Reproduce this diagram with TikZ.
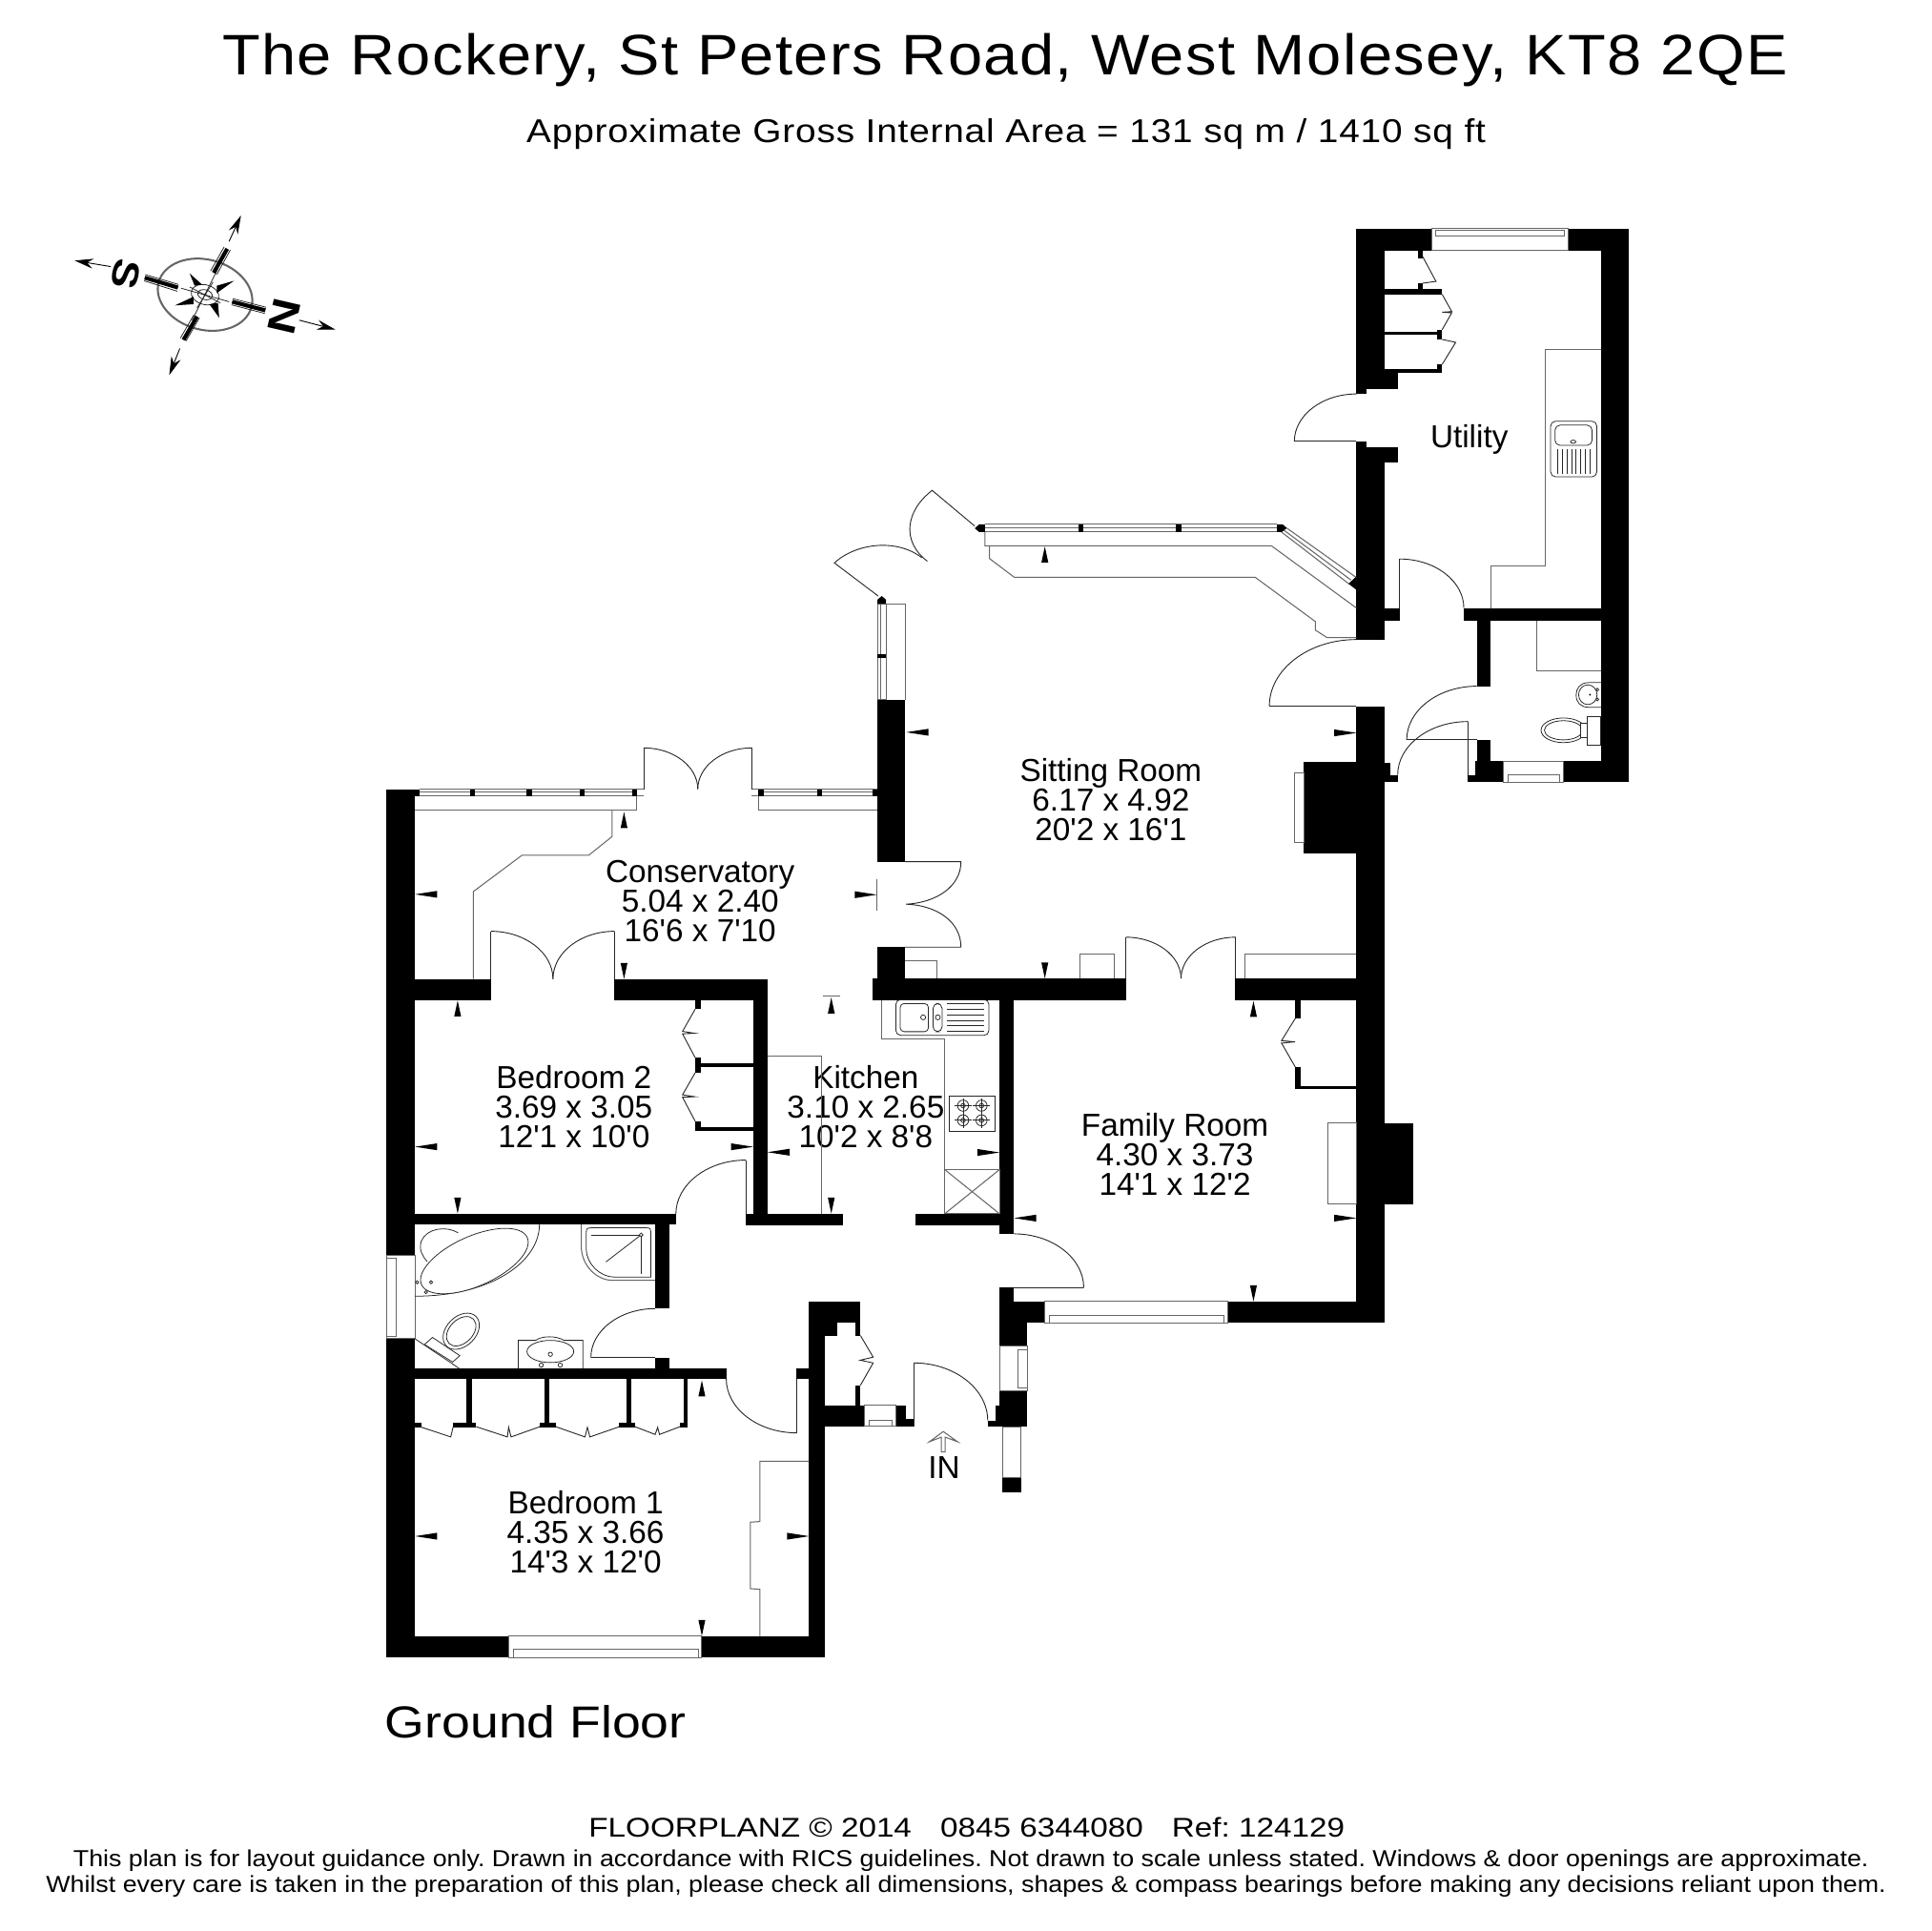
\documentclass[tikz,border=0pt]{standalone}
\usepackage{fontspec}
\usepackage{graphicx}
\setmainfont{Liberation Sans}
\usetikzlibrary{arrows.meta}
\definecolor{gl}{gray}{0.4}
\tikzset{
  fine/.style={draw=gl,line width=0.4pt},
  door/.style={draw=black!85,line width=0.35pt},
  fix/.style={draw=black!85,line width=0.3pt},
  room/.style={font=\fontsize{12.9}{12}\selectfont,inner sep=0pt,align=center},
  glass/.style={draw=gl,line width=0.4pt,fill=white}
}
\newcommand{\wall}[4]{\fill[black] (#1,#2) rectangle (#3,#4);}
\newcommand{\qH}[4]{\pgfmathsetmacro\cxa{#1+.55*(#3-#1)}\pgfmathsetmacro\cyb{#4-.55*(#4-#2)}\draw[door] (#1,#2) .. controls (\cxa,#2) and (#3,\cyb) .. (#3,#4);}
\newcommand{\arL}[2]{\fill[black] (#1,#2) -- (#1+18,#2-2.8) -- (#1+18,#2+2.8) -- cycle;}
\newcommand{\arR}[2]{\fill[black] (#1,#2) -- (#1-18,#2-2.8) -- (#1-18,#2+2.8) -- cycle;}
\newcommand{\arU}[2]{\fill[black] (#1,#2) -- (#1-2.8,#2+13) -- (#1+2.8,#2+13) -- cycle;}
\newcommand{\arD}[2]{\fill[black] (#1,#2) -- (#1-2.8,#2-13) -- (#1+2.8,#2-13) -- cycle;}
\newcommand{\qs}{\textquotesingle{}}
\begin{document}
\begin{tikzpicture}[x=0.5pt,y=-0.5pt]
\frenchspacing
\useasboundingbox (0,0) rectangle (1568,1568);
\fill[white] (0,0) rectangle (1568,1568);
% ---------- texts
\node[inner sep=0pt,font=\fontsize{23.2}{24}\selectfont\addfontfeatures{LetterSpace=2.2}] (title) at (816,49) {\scalebox{1.085}[1]{The Rockery, St Peters Road, West Molesey, KT8 2QE}};
\node[inner sep=0pt,font=\fontsize{13.4}{14}\selectfont\addfontfeatures{LetterSpace=2}] (sub) at (817,109) {\scalebox{1.122}[1]{Approximate Gross Internal Area = 131 sq m / 1410 sq ft}};
\node[room] (utility) at (1193,356.5) {Utility};
\node[room] (sit) at (902,649.5) {Sitting Room\\6.17 x 4.92\\20\qs2 x 16\qs1};
\node[room] (con) at (568.5,732) {Conservatory\\5.04 x 2.40\\16\qs6 x 7\qs10};
\node[room] (bed2) at (466,899) {Bedroom 2\\3.69 x 3.05\\12\qs1 x 10\qs0};
\node[room] (kit) at (703,899) {Kitchen\\3.10 x 2.65\\10\qs2 x 8\qs8};
\node[room] (fam) at (954,937) {Family Room\\4.30 x 3.73\\14\qs1 x 12\qs2};
\node[room] (bed1) at (475.5,1244) {Bedroom 1\\4.35 x 3.66\\14\qs3 x 12\qs0};
\node[room] (in) at (766.5,1191.5) {IN};
\node[inner sep=0pt,font=\fontsize{18.2}{20}\selectfont] (gf) at (435,1398.5) {\scalebox{1.14}[1]{Ground Floor}};
\node[inner sep=0pt,font=\fontsize{11}{12}\selectfont] (f1) at (785,1483.5) {\scalebox{1.17}[1]{FLOORPLANZ © 2014\hspace{10pt}0845 6344080\hspace{10pt}Ref: 124129}};
\node[inner sep=0pt,font=\fontsize{9.4}{10}\selectfont] (f2) at (788.5,1510.5) {\scalebox{1.104}[1]{This plan is for layout guidance only. Drawn in accordance with RICS guidelines. Not drawn to scale unless stated. Windows \& door openings are approximate.}};
\node[inner sep=0pt,font=\fontsize{9.4}{10}\selectfont] (f3) at (784.5,1531.5) {\scalebox{1.105}[1]{Whilst every care is taken in the preparation of this plan, please check all dimensions, shapes \& compass bearings before making any decisions reliant upon them.}};
% ---------- compass
\begin{scope}
\draw[gl,line width=0.8pt,rotate around={-15:(166.5,239.3)}] (166.5,239.3) ellipse[x radius=39,y radius=28.5];
\draw[fix,rotate around={-15:(166.5,239.3)}] (166.5,239.3) ellipse[x radius=11.5,y radius=8];
\draw[fix,rotate around={-15:(166.5,239.3)}] (166.5,239.3) ellipse[x radius=6,y radius=4];
\fill[black] (166.5,239.3) circle[radius=1.2];
\draw[fix] (147,234) -- (186,245);
\draw[fix] (177,218) -- (156,260);
\draw[fix] (154,233) -- (179,246);
\draw[fix] (173,229) -- (160,250);
\draw[line width=0.35pt,-{Stealth[length=7.5pt,width=4pt]}] (90,216.5) -- (60.7,211.6);
\draw[line width=0.35pt,-{Stealth[length=7.5pt,width=4pt]}] (243,260) -- (272.3,267.6);
\draw[line width=0.35pt,-{Stealth[length=7.5pt,width=4pt]}] (186,196) -- (195.7,175);
\draw[line width=0.35pt,-{Stealth[length=7.5pt,width=4pt]}] (146,283) -- (137.4,304.6);
\draw[line width=1.6pt] (117.5,225.5) -- (144.5,233.5);
\draw[line width=1.6pt] (188.5,245) -- (215.5,252);
\draw[line width=1.6pt] (173.5,221.5) -- (184.5,202);
\draw[line width=1.6pt] (149,276) -- (160,257);
\draw[fix] (117,228) -- (144,236.5);
\draw[fix] (118,223) -- (145,231);
\draw[fix] (188,247.5) -- (215,254.5);
\draw[fix] (189,242.5) -- (216,249.5);
\draw[fix] (176,223) -- (187,203);
\draw[fix] (171,220) -- (182,200.5);
\draw[fix] (151,277) -- (162,258);
\draw[fix] (146.5,274.5) -- (157.5,255.5);
\fill[black] (158,232) -- (154,222) -- (164,231) -- cycle;
\fill[black] (176,232) -- (190,228) -- (176,238) -- cycle;
\fill[black] (177,246) -- (178,258) -- (170,247) -- cycle;
\fill[black] (157,247) -- (142,248) -- (157,241) -- cycle;
\node[inner sep=0pt,rotate=-103,font=\fontsize{15}{15}\bfseries\selectfont] (cs) at (102,222.5) {\scalebox{1.2}[1]{S}};
\node[inner sep=0pt,rotate=-103,font=\fontsize{16}{16}\bfseries\selectfont] (cn) at (231,257) {\scalebox{1.25}[1]{N}};
\end{scope}
% ---------- walls: utility block
\wall{1101.4}{185.6}{1162.3}{203.3}
\wall{1273.3}{185.6}{1322.6}{203.3}
\wall{1299.9}{185.6}{1322.6}{635}
\wall{1101.4}{185.6}{1124.3}{315.8}
\wall{1124.3}{299.3}{1135.4}{315.8}
\wall{1101.4}{315.8}{1109.4}{319.9}
\wall{1101.4}{358.4}{1109.4}{363.2}
\wall{1101.4}{363.2}{1135.4}{375.8}
\wall{1101.4}{375.8}{1124.3}{519.6}
\wall{1124.3}{493.7}{1136.5}{504.4}
\wall{1188.6}{493.7}{1299.9}{504.4}
\wall{1199.2}{504.4}{1210.6}{557.2}
\wall{1199.2}{600.8}{1210.6}{618.2}
\wall{1197.7}{618.2}{1220.4}{635}
\wall{1191.7}{629.2}{1197.7}{635}
\wall{1269.4}{618.2}{1322.6}{635}
\wall{1101.4}{573.6}{1124.3}{1074.2}
\wall{1124.3}{619.5}{1128.7}{635}
\wall{1128.7}{629.2}{1135}{635}
\wall{1058.8}{618.9}{1101.4}{693.3}
% closets utility
\wall{1124.3}{234.5}{1171}{239}
\wall{1124.3}{269.3}{1166.7}{271.5}
\wall{1124.3}{299.3}{1171}{302.5}
\wall{1151.2}{203.3}{1155}{209.9}
\wall{1151.2}{229.8}{1155}{234.5}
\wall{1166.7}{234.5}{1171}{239}
\wall{1166.7}{267.7}{1171}{275.6}
\wall{1166.7}{295.9}{1171}{302.5}
\draw[door] (1155,208) -- (1166,228.5) -- (1155,230);
\draw[door] (1171,239) -- (1178.8,253) -- (1171,253.5) -- (1178.8,254) -- (1171,267.7);
\draw[door] (1171,275.6) -- (1182,278) -- (1171,295.9);
% main block walls
\wall{712.1}{568.3}{734.9}{699.7}
\wall{712.1}{769.1}{734.9}{794.6}
\wall{708.5}{794.6}{914.7}{812.1}
\wall{1003}{794.6}{1101.4}{812.1}
\wall{811.6}{812.1}{823.4}{1001.9}
\wall{743.7}{985.6}{811.6}{995}
\wall{1124.5}{911.8}{1147.9}{977.9}
\wall{997}{1056.7}{1101.4}{1074.2}
\wall{811.6}{1045.7}{823.4}{1056.7}
\wall{811.6}{1056.7}{848.6}{1074.2}
\wall{811.6}{1074.2}{834}{1092.8}
\wall{811.6}{1129.3}{834}{1158.6}
\wall{808}{1141.5}{811.6}{1158.6}
\wall{802}{1153.5}{808}{1158.6}
\wall{814}{1200}{829}{1211.6}
% family closet
\wall{1051.9}{812.1}{1056}{826.7}
\wall{1051.9}{866.7}{1056}{884.5}
\wall{1051.9}{881.6}{1101.4}{884.5}
\draw[door] (1051.9,826.7) -- (1040.6,845) -- (1051.5,846) -- (1040.6,847) -- (1051.9,866.7);
% conservatory & bedroom 2
\wall{313.8}{640.8}{337}{1019.5}
\wall{313.8}{1087.1}{337}{1346}
\wall{337}{640.8}{340.8}{646.5}
\wall{337}{794.9}{398.6}{811.9}
\wall{499}{794.9}{623.2}{811.9}
\wall{611.6}{811.9}{623.2}{994.7}
\wall{337}{985.9}{548.8}{994.6}
\wall{605.7}{985.9}{684.5}{994.7}
\wall{564.5}{811.9}{569}{819.4}
\wall{564.5}{858.9}{569}{871}
\wall{564.5}{863.3}{611.6}{866.4}
\wall{564.5}{910.5}{569}{918}
\wall{564.5}{915.4}{611.6}{918}
\draw[door] (564.5,819.4) -- (554.2,837.5) -- (564,839) -- (554.2,839.5) -- (564.5,858.9);
\draw[door] (564.5,871) -- (554.2,889) -- (564,890.5) -- (554.2,891) -- (564.5,910.5);
% bathroom & bedroom 1
\wall{531.9}{994.4}{543.2}{1062.6}
\wall{531.9}{1102.3}{543.2}{1111.1}
\wall{337}{1111.1}{589.7}{1119.6}
\wall{337}{1328.4}{413.4}{1346}
\wall{569.6}{1328.4}{670}{1346}
\wall{657}{1056.6}{670}{1346}
\wall{657}{1056.6}{698.7}{1074.2}
\wall{670}{1074.2}{679.5}{1084.5}
\wall{694.3}{1074.2}{698.7}{1084.5}
\wall{694.3}{1124.8}{698.7}{1141.3}
\wall{670}{1141.3}{701.7}{1158.3}
\wall{727.5}{1141.3}{735.8}{1158.3}
\wall{735.8}{1152.4}{741.7}{1158.3}
\wall{646.9}{1111.1}{657}{1119.6}
\draw[door] (698.7,1084.5) -- (709,1102) -- (698.5,1104.5) -- (709,1106.7) -- (698.7,1124.8);
\wall{379}{1119.6}{382.9}{1155.5}
\wall{442.2}{1119.6}{446}{1155.5}
\wall{508.8}{1119.6}{512.7}{1155.5}
\wall{555}{1119.6}{558.6}{1155.5}
\wall{337}{1155.5}{342.3}{1158.9}
\wall{368}{1155.5}{386.7}{1158.9}
\wall{438.3}{1155.5}{451.3}{1158.9}
\wall{502.9}{1155.5}{515.6}{1158.9}
\wall{552}{1155.5}{558.6}{1158.9}
\draw[door] (341,1158.5) -- (366,1166.8) -- (368,1158.5);
\draw[door] (386.7,1158.5) -- (412,1166.8) -- (413,1159) -- (415,1166.8) -- (438.3,1158.5);
\draw[door] (451.3,1158.5) -- (475,1166.8) -- (477,1159) -- (479,1166.8) -- (502.9,1158.5);
\draw[door] (515.6,1158.5) -- (532,1164.8) -- (534,1159) -- (535.5,1164.8) -- (552,1158.5);
% ---------- windows
\draw[glass] (1162.3,185.6) rectangle (1273.3,203.3);
\draw[glass] (1165.6,186.8) rectangle (1270.5,191.9);
\draw[glass] (1220.4,618.2) rectangle (1269.4,635);
\draw[glass] (1224.5,629.5) rectangle (1266.5,635);
\draw[glass] (848.6,1056.7) rectangle (997,1074.2);
\draw[glass] (852,1068.2) rectangle (994,1074);
\draw[glass] (413.4,1328.4) rectangle (569.6,1346);
\draw[glass] (417,1339.5) rectangle (567,1346);
\draw[glass] (702,1141.3) rectangle (727.5,1158.3);
\draw[glass] (706,1153) rectangle (724,1158.3);
\draw[glass] (313.8,1019.5) rectangle (337,1087.1);
\draw[glass] (313.8,1021.5) rectangle (321.5,1085);
\draw[glass] (811.6,1092.8) rectangle (834,1129.3);
\draw[glass] (826.5,1096) rectangle (834,1127);
\draw[fine] (814,1158.6) rectangle (829,1200);
% top sitting window
\draw[fine] (799.8,425.8) -- (1037,425.8);
\draw[fine] (799.8,428.6) -- (1037,428.6);
\draw[fine] (799.8,431.9) -- (1037,431.9);
\fill[black] (791.5,429) -- (795,425.8) -- (799.8,425.8) -- (799.8,431.9) -- (795,431.9) -- cycle;
\wall{875.4}{425.8}{879.8}{431.9}
\wall{954.5}{425.8}{959}{431.9}
\fill[black] (1036.9,425.8) -- (1041.5,425.8) -- (1045,428.8) -- (1041,431.9) -- (1036.9,431.9) -- cycle;
\draw[fine] (1045,428.9) -- (1101.4,469);
\draw[fine] (1042.5,430.5) -- (1097,471);
\draw[fine] (1040.5,432) -- (1095.7,474.4);
\fill[black] (1101.4,468) -- (1095,474) -- (1101.4,479) -- cycle;
% west sitting window
\draw[fine] (712.4,490.3) rectangle (719.5,568.3);
\draw[fine] (715,490.3) -- (715,568.3);
\draw[fine] (719.5,490.3) -- (734.9,490.3) -- (734.9,568.3);
\wall{712.4}{531.5}{719.5}{534.2}
\fill[black] (716,484) -- (719.5,487) -- (719.5,490.3) -- (712.4,490.3) -- (712.4,487) -- cycle;
% conservatory windows
\draw[fine] (340.8,640.8) -- (522.7,640.8);
\draw[fine] (340.8,643.4) -- (513.3,643.4);
\draw[fine] (340.8,646.5) -- (517.1,646.5);
\wall{381.7}{640.8}{385.6}{646.5}
\wall{427.6}{640.8}{431.8}{646.5}
\wall{470.9}{640.8}{475}{646.5}
\wall{513.3}{640.8}{517.1}{646.5}
\draw[fine] (517.1,646.5) -- (522.7,646.5);
\draw[fine] (610.4,640.8) -- (712,640.8);
\draw[fine] (620.2,643.4) -- (712,643.4);
\draw[fine] (610.4,646.5) -- (712,646.5);
\wall{615.8}{640.8}{620.2}{646.5}
\wall{663.2}{640.8}{667.3}{646.5}
\wall{708.5}{640.8}{712.1}{646.5}
% ---------- worktops and fittings
\draw[fine] (337,658.1) -- (517.1,658.1) -- (517.1,646.5);
\draw[fine] (497,658.1) -- (497,679.3) -- (478,694.5) -- (423.8,694.5) -- (384.4,723.9) -- (384.4,794.9);
\draw[fine] (615.8,646.5) -- (615.8,658.1) -- (712,658.1);
\draw[fine] (799.8,431.9) -- (799.8,443.2) -- (1032.4,443.2) -- (1101.4,493.7);
\draw[fine] (803.4,443.2) -- (803.4,453.5) -- (823.5,468.7) -- (1019.1,468.7) -- (1068,504.7) -- (1068,511.6) -- (1077.5,517.7) -- (1101.4,517.7);
\draw[fine] (734.9,780.2) -- (761,780.2) -- (761,794.6);
\draw[fine] (876.9,794.6) -- (876.9,775) -- (904.7,775) -- (904.7,794.6);
\draw[fine] (1010.8,794.6) -- (1010.8,775) -- (1101.4,775);
\draw[fine] (1050.8,627.7) rectangle (1058.8,683.9);
\draw[fine] (1299.9,283.8) -- (1255,283.8) -- (1255,459.5) -- (1210.6,459.5) -- (1210.6,493.7);
\draw[fine] (1247.8,504.4) -- (1247.8,544.9) -- (1299.9,544.9);
\draw[fine] (623.2,857.4) -- (667.3,857.4) -- (667.3,985.9);
\draw[fine] (668.2,808.6) -- (682.4,808.6);
\draw[fine] (716,812.1) -- (716,843.3) -- (767.1,843.3) -- (767.1,985.6);
\draw[fine] (767.1,949.7) rectangle (811.6,985.6);
\draw[fine] (767.1,949.7) -- (811.6,985.6);
\draw[fine] (811.6,949.7) -- (767.1,985.6);
\draw[fine] (1078.2,911.8) rectangle (1101.4,977.9);
\draw[fine] (712.1,714.3) -- (712.1,739.2);
\draw[fine] (617,1328.4) -- (617,1290.5) -- (609.3,1290) -- (609.3,1236) -- (617,1235.5) -- (617,1186.5) -- (657,1186.5);
% kitchen sink
\draw[fix,rounded corners=2pt] (727.4,811.6) rectangle (803,840.7);
\draw[fix,rounded corners=1.5pt] (731,814.9) rectangle (753.8,837.7);
\draw[fix,rounded corners=2pt] (757.6,814.9) rectangle (765,837.7);
\draw[fix] (749.6,826.1) circle[radius=2];
\draw[fix] (761.5,826.1) circle[radius=2];
\foreach \yy in {815,819.5,824,828.5,833,837.5} {\draw[fix] (768.9,\yy) -- (799.1,\yy);}
% stove
\draw[fix] (770.7,889.9) rectangle (808,918.6);
\foreach \xx in {782,797} {\foreach \yy in {897.8,909.7} {
  \draw[fix] (\xx,\yy) circle[radius=4.5];
  \draw[fix] (\xx,\yy) circle[radius=1.8];
  \draw[fix] (\xx-7,\yy) -- (\xx+7,\yy);
  \draw[fix] (\xx,\yy-6) -- (\xx,\yy+6);}}
% utility sink
\draw[fix,rounded corners=2pt] (1259.1,342) rectangle (1296.6,387.2);
\draw[fix,rounded corners=2pt] (1262.7,345.2) rectangle (1292.7,361.6);
\draw[fix] (1277.4,358.7) ellipse[x radius=2.2,y radius=1.3];
\foreach \xx in {1265,1268.7,1272.4,1276.1,1279.8,1283.5,1287.2,1290.9} {\draw[fix] (\xx,364.7) -- (\xx,384.6);}
% wc basin and toilet
\draw[fix] (1299.9,554.3) -- (1290,554.3) .. controls (1283,554.3) and (1279.8,559) .. (1279.8,564.3) .. controls (1279.8,570) and (1283,574.3) .. (1290,574.3) -- (1299.9,574.3);
\draw[fix] (1289.3,564.1) ellipse[x radius=7.5,y radius=8];
\fill (1291,564.1) circle[radius=0.8];
\draw[fix] (1297,560) circle[radius=1.2];
\draw[fix] (1297,568) circle[radius=1.2];
\draw[fix] (1288.8,581.8) rectangle (1299.9,604.9);
\draw[fix] (1269.5,593) ellipse[x radius=18.2,y radius=10];
\draw[fix] (1269.5,593) ellipse[x radius=15.5,y radius=7.8];
\draw[fix,fill=white] (1283,587) rectangle (1288.8,599);
% bathroom fixtures
\draw[fix] (438,994.4) .. controls (438,1024) and (400,1052.5) .. (337,1052.5);
\draw[fix] (372,1001) .. controls (362,995) and (346,997.5) .. (342,1008) .. controls (340,1015) and (343,1020) .. (347,1024.5);
\draw[fix,rotate around={24:(385.2,1024)},fill=white] (385.2,1024) ellipse[x radius=47,y radius=20.2];
\draw[fix] (338.7,1041.2) circle[radius=1.3];
\draw[fix] (350,1041.2) circle[radius=1.3];
\draw[fix] (345.9,1049.2) circle[radius=1.3];
\draw[fine] (472,994.4) -- (472,1012) .. controls (472,1028) and (485,1039.6) .. (497,1039.6) -- (531.9,1039.6);
\draw[fix] (476,1001) .. controls (476,997.5) and (477,997) .. (480,997) -- (525,997) .. controls (528,997) and (528.4,998) .. (528.4,1000) -- (528.4,1037) -- (499,1037) .. controls (487,1037) and (476,1026) .. (476,1014) -- cycle;
\draw[fix] (480,1002.7) -- (520.6,1002.7) -- (520.6,1034.5);
\draw[fix] (520.6,1002.7) -- (492,1024.7);
\draw[fix,fill=white] (520.6,1002.7) circle[radius=1.5];
\draw[fix] (337,1087.1) -- (372.8,1111.1);
\draw[fix,fill=white] (344.7,1091.7) -- (351.2,1086) -- (373.4,1100.8) -- (367.5,1106) -- cycle;
\draw[fix,rotate around={45:(374.5,1081)},fill=white] (374.5,1081) ellipse[x radius=17,y radius=12];
\draw[fix,rotate around={45:(374.5,1081)}] (374.5,1081) ellipse[x radius=14,y radius=9.5];
\draw[fix] (420.8,1111.1) -- (420.8,1088.4) -- (435,1088.4) .. controls (440,1084.5) and (452,1084.5) .. (458,1088.4) -- (473.3,1088.4) -- (473.3,1111.1);
\draw[fix] (446.9,1097.4) ellipse[x radius=19,y radius=9];
\draw[fix] (446.9,1099.7) circle[radius=1.7];
\draw[fix] (439.5,1108.5) circle[radius=1.7];
\draw[fix] (454.9,1108.5) circle[radius=1.7];
% ---------- doors
\qH{398.6}{756.2}{449}{794.9}\draw[door] (398.6,794.9) -- (398.6,756.2);
\qH{499}{756.2}{449}{794.9}\draw[door] (499,794.9) -- (499,756.2);
\qH{522.7}{607.3}{566.6}{640.8}\draw[door] (522.7,640.8) -- (522.7,607.3);
\qH{610.4}{607.3}{566.6}{640.8}\draw[door] (610.4,640.8) -- (610.4,607.3);
\draw[door] (734.9,699.7) -- (780.3,699.7) .. controls (780.3,720) and (760,733) .. (735.8,734.2) .. controls (760,735) and (780.3,748) .. (780.3,769.1) -- (734.9,769.1);
\qH{914.2}{761}{959}{794.6}\draw[door] (914.2,794.6) -- (914.2,761);
\qH{1003.4}{761}{959}{794.6}\draw[door] (1003.4,794.6) -- (1003.4,761);
\draw[door] (791.5,427.2) -- (756.9,398.2) .. controls (735,415) and (732,440) .. (753,455.7);
\draw[door] (713,483.9) -- (677.5,457.1) .. controls (695,441) and (728,437) .. (748.6,452.9);
\qH{1101.4}{519.3}{1030.7}{573.3}\draw[door] (1030.7,573.3) -- (1101.4,573.3);
\qH{1101.4}{319.9}{1051}{358.4}\draw[door] (1051,358.4) -- (1101.4,358.4);
\qH{1136.5}{453.9}{1188.6}{493.7}\draw[door] (1136.5,493.7) -- (1136.5,453.9);
\qH{1199.2}{557.2}{1142.2}{600.8}\draw[door] (1142.2,600.8) -- (1199.2,600.8);
\qH{1192}{585.9}{1134.9}{629.2}\draw[door] (1192,629.2) -- (1192,585.9);
\qH{605.7}{942}{548.8}{985.9}\draw[door] (605.7,985.9) -- (605.7,942);
\qH{823.4}{1001.9}{880}{1045.7}\draw[door] (823.4,1045.7) -- (880,1045.7);
\qH{531.9}{1062.6}{479.8}{1102.3}\draw[door] (479.8,1102.3) -- (531.9,1102.3);
\qH{646.9}{1163.5}{589.7}{1119.6}\draw[door] (646.9,1119.6) -- (646.9,1163.5);
\qH{741.9}{1106.7}{802}{1153.5}\draw[door] (741.9,1158.6) -- (741.9,1106.7);
% ---------- IN arrow
\draw[gl,line width=0.4pt] (754.7,1170.7) -- (765.9,1162.4) -- (777.5,1170.7) -- (767.5,1167) -- (767.5,1179) -- (764.3,1179) -- (764.3,1167) -- cycle;
% ---------- dimension arrows
\arL{337}{726.2} \arR{712}{726.5} \arU{506.7}{659.4} \arD{506.7}{794.9} \arU{371.6}{812.4}
\arL{337}{931.2} \arR{611.6}{931.2} \arD{371.6}{985.4}
\arL{623.2}{935.6} \arR{811.6}{935.8} \arU{675}{810} \arD{675}{985.4}
\arL{735.8}{594.6} \arR{1101.4}{595.1} \arU{848.4}{443.8} \arD{848.4}{794.5}
\arL{823.4}{989.1} \arR{1101.3}{989.1} \arU{1017.8}{812.8} \arD{1017.8}{1056.7}
\arL{337}{1247.4} \arR{657}{1247.4} \arU{569.9}{1120.9} \arD{569.9}{1328.4}
\end{tikzpicture}
\end{document}
